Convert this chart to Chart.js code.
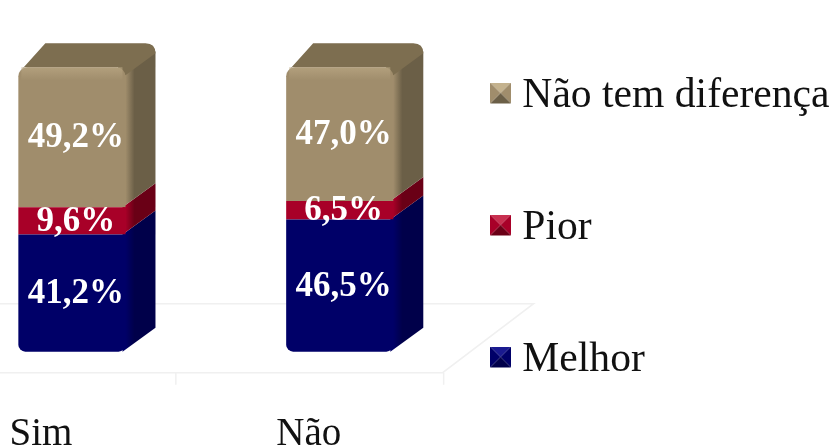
<!DOCTYPE html>
<html><head><meta charset="utf-8">
<style>
html,body{margin:0;padding:0;background:#fff;width:833px;height:446px;overflow:hidden}
#wrap{position:absolute;left:-62px;top:-55px;width:966px;height:560px;filter:blur(0.45px)}
</style>
<script src="https://cdn.jsdelivr.net/npm/chart.js@4"></script>
</head><body><div id="wrap"><canvas id="c"></canvas></div>
<script>
const categories = ["Sim", "Não"];
const melhor = [41.2, 46.5];
const pior = [9.6, 6.5];
const semDiferenca = [49.2, 47.0];
const seriesNames = ["Melhor", "Pior", "Não tem diferença"];
const frontColors = ["#000068", "#A80028", "#A08D6C"];
const sideColors = ["#00004A", "#6A0016", "#6B5F47"];
const topColors = ["#00004A", "#6A0016", "#7D6E50"];
const lightColors = ["#1A1A90", "#C83050", "#C4B28E"];
const DX = 30, DY = -24;

function icon(i){
  const s = 21, c = document.createElement('canvas'); c.width = s; c.height = s + 6;
  const g = c.getContext('2d'), m = s/2, b = [lightColors[i], frontColors[i], sideColors[i], frontColors[i]];
  const corners = [[0,0],[s,0],[s,s],[0,s]];
  for(let k=0;k<4;k++){
    g.fillStyle = b[k]; g.beginPath();
    g.moveTo(corners[k][0],corners[k][1]); g.lineTo(corners[(k+1)%4][0],corners[(k+1)%4][1]);
    g.lineTo(m,m); g.closePath(); g.fill();
  }
  return c;
}
const icons = [icon(0), icon(1), icon(2)];

const depth3d = {
  id:'depth3d',
  beforeDatasetsDraw(chart){
    const {ctx, chartArea, scales:{y}} = chart;
    const base = y.getPixelForValue(0);
    const fy = base + 21, by = base - 48;
    const l = chartArea.left - 30, r = chartArea.right - 31;
    ctx.save();
    ctx.strokeStyle = '#F0F0F0'; ctx.lineWidth = 1.5;
    ctx.beginPath();
    ctx.moveTo(l, fy); ctx.lineTo(r, fy); ctx.lineTo(r + 91, by); ctx.lineTo(l, by);
    const step = (chartArea.right - chartArea.left) / categories.length;
    for(let k=1;k<=categories.length;k++){ ctx.moveTo(l + step*k, fy); ctx.lineTo(l + step*k, fy + 12); }
    ctx.stroke();
    chart.data.datasets.forEach((ds,d)=>{
      chart.getDatasetMeta(d).data.forEach(el=>{
        const R = el.x + el.width/2, L = el.x - el.width/2, t = el.y, b = el.base;
        const grad = ctx.createLinearGradient(R, 0, R + DX, 0);
        grad.addColorStop(0, frontColors[d]); grad.addColorStop(0.3, sideColors[d]); grad.addColorStop(1, sideColors[d]);
        ctx.fillStyle = grad;
        ctx.beginPath();
        ctx.moveTo(R - 3, t); ctx.lineTo(R + DX, t + DY + (d===2?8:0));
        ctx.lineTo(R + DX, b + DY); ctx.lineTo(R - 3, b); ctx.closePath(); ctx.fill();
        if(d === chart.data.datasets.length-1){
          ctx.fillStyle = topColors[d];
          ctx.beginPath();
          ctx.moveTo(L, t + 6); ctx.lineTo(L + DX - 3, t + DY);
          ctx.lineTo(R + DX - 10, t + DY); ctx.quadraticCurveTo(R + DX, t + DY, R + DX, t + DY + 10);
          ctx.lineTo(R, t + 8); ctx.lineTo(R - 8, t); ctx.lineTo(L + 6, t); ctx.closePath(); ctx.fill();
        }
      });
    });
    ctx.restore();
  },
  afterDatasetsDraw(chart){
    const {ctx} = chart;
    ctx.save();
    chart.data.datasets.forEach((ds,d)=>{
      chart.getDatasetMeta(d).data.forEach((el,i)=>{
        const R = el.x + el.width/2, L = el.x - el.width/2, t = el.y, b = el.base;
        if(d === 2){
          const g = ctx.createLinearGradient(0, t, 0, t + 13);
          g.addColorStop(0, 'rgba(190,172,136,0.6)'); g.addColorStop(1, 'rgba(190,172,136,0)');
          ctx.fillStyle = g; ctx.fillRect(L + 3, t, el.width - 6, 13);
        }
        ctx.fillStyle = '#fff';
        ctx.font = 'bold 35px "Liberation Serif"';
        ctx.textAlign = 'center'; ctx.textBaseline = 'middle';
        const txt = ds.data[i].toFixed(1).replace('.', ',') + '%';
        ctx.fillText(txt, el.x + 4, (t + b)/2 + 1);
      });
    });
    ctx.restore();
  },
  afterLayout(chart){
    chart.legend.left = chart.chartArea.right - 64.5;
    chart.legend.top += 3; chart.legend.bottom += 3;
  }
};

new Chart(document.getElementById('c'), {
  type:'bar',
  data:{labels:categories, datasets:[
    {label:seriesNames[0], data:melhor, backgroundColor:frontColors[0], borderRadius:{bottomLeft:7,bottomRight:7,topLeft:0,topRight:0}, borderSkipped:false},
    {label:seriesNames[1], data:pior, backgroundColor:frontColors[1]},
    {label:seriesNames[2], data:semDiferenca, backgroundColor:frontColors[2], borderRadius:{topLeft:9,topRight:9,bottomLeft:0,bottomRight:0}, borderSkipped:false}
  ]},
  options:{
    responsive:true, maintainAspectRatio:false, animation:false,
    layout:{padding:0},
    datasets:{bar:{categoryPercentage:0.4, barPercentage:1}},
    scales:{
      x:{stacked:true, grid:{display:false}, border:{display:false},
        ticks:{color:'#111', font:{family:'"Liberation Serif"', size:39}, padding:3, labelOffset:-31, maxRotation:0, autoSkip:false},
        afterFit(s){ s.height = 105; }},
      y:{stacked:true, display:false, min:-17, max:143}
    },
    plugins:{
      tooltip:{enabled:false},
      legend:{position:'right', reverse:true,
        labels:{color:'#111', font:{family:'"Liberation Serif"', size:41.6}, padding:90.4, usePointStyle:true, pointStyleWidth:2,
          generateLabels(chart){
            return Chart.defaults.plugins.legend.labels.generateLabels(chart).map(it=>{
              it.pointStyle = icons[it.datasetIndex]; return it;
            });
          }}
      }
    }
  },
  plugins:[depth3d]
});
</script></body></html>
